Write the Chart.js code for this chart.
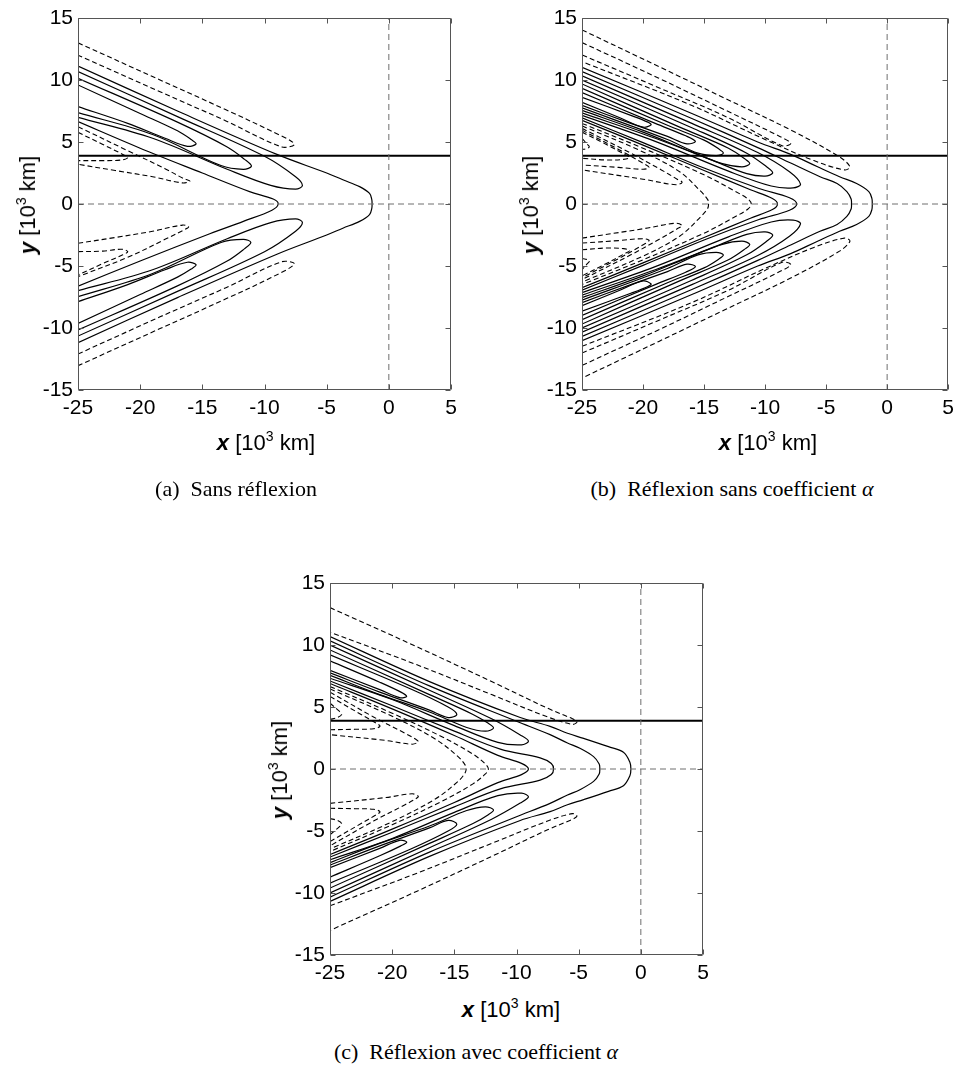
<!DOCTYPE html>
<html>
<head>
<meta charset="utf-8">
<script src="https://cdn.jsdelivr.net/npm/chart.js@4.4.0/dist/chart.umd.min.js"></script>
<style>
  body { margin: 0; background: #fff; width: 960px; height: 1068px; position: relative; overflow: hidden;
         font-family: "Liberation Sans", Arial, sans-serif; }
  canvas { position: absolute; }
  .xlab, .ylab, .cap { position: absolute; white-space: nowrap; color: #000; line-height: 1; }
  .xlab, .ylab { font-size: 22px; }
  .xlab { transform: translate(-50%, -50%); }
  .ylab { transform: translate(-50%, -50%) rotate(-90deg); }
  .sup { font-size: 14px; position: relative; top: -9px; }
  .cap { font-family: "Liberation Serif", "Times New Roman", serif; font-size: 22px; transform: translate(-50%, -50%); }
</style>
</head>
<body>
<canvas id="chartA" width="480" height="430" style="left:0;top:0"></canvas>
<canvas id="chartB" width="480" height="430" style="left:480px;top:0"></canvas>
<canvas id="chartC" width="480" height="430" style="left:250px;top:565px"></canvas>

<div class="xlab" style="left:266px;top:443px"><b><i>x</i></b> [10<span class="sup">3</span> km]</div>
<div class="ylab" style="left:28px;top:205px"><b><i>y</i></b> [10<span class="sup">3</span> km]</div>
<div class="cap" style="left:236px;top:489px">(a)&ensp;Sans réflexion</div>

<div class="xlab" style="left:768px;top:443px"><b><i>x</i></b> [10<span class="sup">3</span> km]</div>
<div class="ylab" style="left:531px;top:205px"><b><i>y</i></b> [10<span class="sup">3</span> km]</div>
<div class="cap" style="left:732px;top:489px">(b)&ensp;Réflexion sans coefficient <i>α</i></div>

<div class="xlab" style="left:511px;top:1010px"><b><i>x</i></b> [10<span class="sup">3</span> km]</div>
<div class="ylab" style="left:280px;top:770px"><b><i>y</i></b> [10<span class="sup">3</span> km]</div>
<div class="cap" style="left:476px;top:1052px">(c)&ensp;Réflexion avec coefficient <i>α</i></div>

<script>
// axes
const xTicks = [-25, -20, -15, -10, -5, 0, 5];
const yTicks = [-15, -10, -5, 0, 5, 10, 15];
const refLineY = 3.9;

// contour lines, flat lists x1,y1,x2,y2,... (10^3 km)

// (a) sans réflexion
const solidA = [
  [-25,11.13, -17,7.5, -9,4.0, -5,2.5, -3.7,1.95, -2.35,1.4, -1.55,0.85, -1.37,0.35, -1.35,0, -1.37,-0.35, -1.55,-0.85, -2.35,-1.4, -3.7,-1.95, -5,-2.5, -9,-4.05, -17,-7.55, -25,-11.18],
  [-25,6.64, -20,4.5, -15,2.5, -11.2,1.0, -9.3,0.4, -8.9,0, -9.4,-0.5, -11.7,-1.4, -14.4,-2.4, -20,-4.6, -25,-6.62],
  [-25,10.68, -17,7.05, -10,3.85, -7.5,2.2, -6.95,1.5, -7.5,1.2, -9.5,1.5, -13,2.8, -19,5.3, -25,6.99],
  [-25,10.14, -17,6.6, -13,4.6, -11.6,3.6, -11.05,3.05, -11.7,2.8, -13.5,3.1, -19,5.6, -25,7.37],
  [-25,9.6, -20,7.3, -17,5.9, -15.9,5.2, -15.5,4.85, -16.2,4.65, -18,5.3, -21,6.5, -25,7.85],
  [-25,-6.99, -19,-5.3, -13,-2.8, -9.5,-1.5, -7.5,-1.2, -6.95,-1.5, -7.5,-2.2, -10,-3.85, -17,-7.05, -25,-10.65],
  [-25,-7.48, -19,-5.6, -13.5,-3.1, -11.7,-2.85, -11.1,-3.1, -11.6,-3.6, -13,-4.6, -17,-6.6, -25,-10.16],
  [-25,-7.88, -21,-6.5, -18,-5.3, -16.2,-4.7, -15.5,-4.9, -15.9,-5.25, -17,-5.9, -20,-7.3, -25,-9.63]
];
const dashedA = [
  [-25,13.0, -18.4,10.0, -13.1,7.6, -9.5,5.9, -7.6,4.85, -8.6,4.6, -13.1,6.7, -18.4,9.05, -25,12.0],
  [-25,6.24, -21,4.3, -18,2.85, -16.5,2.05, -16.0,1.85, -16.6,1.7, -19,2.2, -22,2.7, -25,3.2],
  [-25,5.78, -23,4.8, -21.4,4.0, -21.0,3.75, -21.5,3.55, -23,3.5, -25,3.5],
  [-25,-12.1, -18.4,-9.1, -13.1,-6.75, -8.6,-4.65, -7.6,-4.85, -9.5,-5.95, -13.1,-7.65, -18.4,-10.05, -25,-13.04],
  [-25,-3.17, -22,-2.7, -19,-2.2, -16.6,-1.7, -16.1,-1.85, -16.5,-2.1, -18,-2.85, -21,-4.3, -25,-5.86],
  [-25,-3.84, -23,-3.8, -21.5,-3.65, -21.0,-3.85, -21.4,-4.1, -23,-4.8, -25,-5.73]
];

// (b) réflexion sans coefficient
const solidB = [
  [-25,11.03, -16,7.3, -10.6,5.0, -7.9,4.0, -5.7,3.0, -3.9,2.2, -2.5,1.65, -1.5,1.0, -1.25,0.45, -1.22,0, -1.25,-0.45, -1.5,-1.0, -2.5,-1.65, -3.9,-2.2, -5.7,-3.0, -7.9,-4.0, -10.6,-5.0, -16,-7.3, -25,-11.03],
  [-25,10.68, -16,6.9, -10.6,4.55, -7.9,3.3, -5.5,2.2, -4.1,1.65, -3.3,1.0, -2.95,0.4, -2.92,0, -2.95,-0.4, -3.3,-1.0, -4.1,-1.65, -5.5,-2.2, -7.9,-3.3, -10.6,-4.55, -16,-6.9, -25,-10.68],
  [-25,6.95, -20,4.95, -15,2.9, -10.5,1.25, -8.0,0.5, -7.41,0, -8.0,-0.5, -10.5,-1.25, -15,-2.9, -20,-4.95, -25,-6.95],
  [-25,6.75, -20,4.75, -15,2.7, -11.2,1.15, -9.4,0.45, -8.98,0, -9.4,-0.45, -11.2,-1.15, -15,-2.7, -20,-4.75, -25,-6.75],
  [-25,10.33, -16,6.5, -10.6,4.15, -8,2.6, -7.1,1.6, -7.7,1.3, -9.5,1.45, -13,2.65, -19,5.05, -25,7.15],
  [-25,10.0, -16,6.15, -11.5,4.1, -9.8,2.95, -9.38,2.5, -10.0,2.25, -11.5,2.45, -14,3.4, -19,5.3, -25,7.35],
  [-25,9.68, -17,6.2, -13,4.5, -11.6,3.6, -11.26,3.25, -11.9,3.0, -13.5,3.25, -16,4.2, -20,5.8, -25,7.55],
  [-25,9.33, -18,6.35, -15,5.15, -13.8,4.45, -13.42,4.1, -14.0,3.9, -15.5,4.1, -18,5.2, -25,7.75],
  [-25,8.98, -19,6.5, -16.5,5.5, -15.71,5.05, -16.4,4.85, -18,5.45, -21,6.5, -25,7.95],
  [-25,8.6, -21,7.15, -19.6,6.6, -19.34,6.38, -20,6.2, -22,7.0, -25,8.2],
  [-25,-7.15, -19,-5.05, -13,-2.65, -9.5,-1.45, -7.7,-1.3, -7.1,-1.6, -8,-2.6, -10.6,-4.15, -16,-6.5, -25,-10.33],
  [-25,-7.35, -19,-5.3, -14,-3.4, -11.5,-2.45, -10.0,-2.25, -9.38,-2.5, -9.8,-2.95, -11.5,-4.1, -16,-6.15, -25,-10.0],
  [-25,-7.55, -20,-5.8, -16,-4.2, -13.5,-3.25, -11.9,-3.0, -11.26,-3.25, -11.6,-3.6, -13,-4.5, -17,-6.2, -25,-9.68],
  [-25,-7.75, -18,-5.2, -15.5,-4.1, -14.0,-3.9, -13.42,-4.1, -13.8,-4.45, -15,-5.15, -18,-6.35, -25,-9.33],
  [-25,-7.95, -21,-6.5, -18,-5.45, -16.4,-4.85, -15.71,-5.05, -16.5,-5.5, -19,-6.5, -25,-8.98],
  [-25,-8.2, -22,-7.0, -20,-6.2, -19.34,-6.45, -19.6,-6.65, -21,-7.2, -25,-8.65]
];
const dashedB = [
  [-25,14.04, -18.7,11.08, -13.3,8.53, -7.9,5.97, -3.9,3.8, -3.05,3.0, -3.5,2.75, -6,3.5, -10,5.2, -16,7.95, -25,11.48],
  [-25,13.02, -18.7,10.14, -13.3,7.59, -8.8,5.45, -7.9,4.9, -8.6,4.7, -13,6.95, -19,9.5, -25,12.02],
  [-25,6.5, -20,4.5, -15,2.35, -12.5,1.05, -11.4,0.4, -11.13,0, -11.4,-0.4, -12.5,-1.05, -15,-2.35, -20,-4.5, -25,-6.5],
  [-25,6.3, -20,4.2, -17,2.6, -15.3,1.05, -14.7,0.35, -14.63,0, -14.7,-0.35, -15.3,-1.05, -17,-2.6, -20,-4.2, -25,-6.3],
  [-25,6.1, -21,4.1, -18.5,2.75, -17.2,2.0, -16.8,1.75, -17.3,1.55, -20,2.0, -25,2.75],
  [-25,5.95, -22,4.4, -20.2,3.4, -19.5,2.95, -20.0,2.8, -22,2.95, -25,3.15],
  [-25,5.8, -23,4.8, -21.5,4.0, -21.1,3.75, -21.6,3.6, -23,3.55, -25,3.69],
  [-25,5.3, -24.6,4.85, -24.4,4.6, -24.7,4.45, -25,4.4],
  [-25,-11.48, -16,-7.95, -10,-5.2, -6,-3.5, -3.5,-2.75, -3.05,-3.0, -3.9,-3.8, -7.9,-5.97, -13.3,-8.53, -18.7,-11.08, -25,-14.04],
  [-25,-12.02, -19,-9.5, -13,-6.95, -8.6,-4.7, -7.9,-4.9, -8.8,-5.45, -13.3,-7.59, -18.7,-10.14, -25,-13.02],
  [-25,-2.75, -20,-2.0, -17.3,-1.55, -16.8,-1.75, -17.2,-2.0, -18.5,-2.75, -21,-4.1, -25,-6.1],
  [-25,-3.15, -22,-2.95, -20.0,-2.8, -19.5,-2.95, -20.2,-3.4, -22,-4.4, -25,-5.95],
  [-25,-3.69, -23,-3.55, -21.6,-3.6, -21.1,-3.75, -21.5,-4.0, -23,-4.8, -25,-5.8],
  [-25,-4.4, -24.7,-4.45, -24.4,-4.6, -24.6,-4.85, -25,-5.3]
];

// (c) réflexion avec coefficient
const solidC = [
  [-25,10.68, -17,7.05, -9.7,4.15, -7.3,3.44, -5.9,2.88, -4.6,2.47, -2.6,1.8, -1.4,1.35, -0.88,0.55, -0.8,0, -0.88,-0.55, -1.4,-1.35, -2.6,-1.8, -4.6,-2.47, -5.9,-2.88, -7.3,-3.44, -9.7,-4.15, -17,-7.05, -25,-10.68],
  [-25,10.33, -17,6.7, -10,3.85, -7.3,2.77, -5.9,2.1, -4.9,1.67, -3.8,1.0, -3.35,0.4, -3.3,0, -3.35,-0.4, -3.8,-1.0, -4.9,-1.67, -5.9,-2.1, -7.3,-2.77, -10,-3.85, -17,-6.7, -25,-10.33],
  [-25,7.1, -20,5.1, -15,3.05, -11.3,1.6, -8.1,0.9, -7.2,0.45, -7.02,0, -7.2,-0.45, -8.1,-0.9, -11.3,-1.6, -15,-3.05, -20,-5.1, -25,-7.1],
  [-25,6.9, -20,4.85, -15,2.7, -11.5,1.1, -9.6,0.45, -9.04,0, -9.6,-0.45, -11.5,-1.1, -15,-2.7, -20,-4.85, -25,-6.9],
  [-25,10.0, -17,6.35, -12,4.05, -9.7,2.75, -9.04,2.25, -9.6,1.95, -11.5,2.15, -15,3.5, -20,5.6, -25,7.32],
  [-25,9.6, -17,6.0, -13.5,4.4, -12.3,3.7, -11.85,3.3, -12.5,3.05, -14,3.35, -17,4.6, -21,6.0, -25,7.55],
  [-25,9.2, -18.5,6.45, -15.5,5.0, -14.8,4.4, -15.5,4.15, -17,4.75, -21,6.2, -25,7.75],
  [-25,8.72, -21,7.0, -19.3,6.2, -18.83,5.85, -19.4,5.75, -21,6.4, -25,7.95],
  [-25,-7.32, -20,-5.6, -15,-3.5, -11.5,-2.15, -9.6,-1.95, -9.04,-2.25, -9.7,-2.75, -12,-4.05, -17,-6.35, -25,-10.0],
  [-25,-7.55, -21,-6.0, -17,-4.6, -14,-3.35, -12.5,-3.05, -11.85,-3.3, -12.3,-3.7, -13.5,-4.4, -17,-6.0, -25,-9.6],
  [-25,-7.75, -21,-6.2, -17,-4.75, -15.5,-4.15, -14.8,-4.45, -15.5,-5.0, -18.5,-6.45, -25,-9.2],
  [-25,-7.95, -21,-6.4, -19.4,-5.75, -18.83,-5.9, -19.3,-6.2, -21,-7.0, -25,-8.72]
];
const dashedC = [
  [-25,13.02, -18,9.85, -12,7.05, -7.5,4.9, -5.5,4.05, -5.14,3.8, -5.5,3.6, -7.5,4.2, -12,6.0, -18,8.4, -25,11.03],
  [-25,6.65, -20,4.5, -16,2.6, -13.5,1.2, -12.5,0.4, -12.26,0, -12.5,-0.4, -13.5,-1.2, -16,-2.6, -20,-4.5, -25,-6.65],
  [-25,6.45, -20,4.25, -16.5,2.4, -14.7,1.0, -14.15,0.35, -14.05,0, -14.15,-0.35, -14.7,-1.0, -16.5,-2.4, -20,-4.25, -25,-6.45],
  [-25,6.2, -21.5,4.2, -19,2.9, -18.1,2.4, -17.9,2.2, -18.4,2.0, -20.5,2.3, -25,2.77],
  [-25,5.85, -22.5,4.4, -21.3,3.7, -20.98,3.45, -21.5,3.25, -23,3.2, -25,3.17],
  [-25,5.3, -24.3,4.7, -24.06,4.4, -24.4,4.15, -25,4.0],
  [-25,-11.03, -18,-8.4, -12,-6.0, -7.5,-4.2, -5.5,-3.6, -5.14,-3.8, -5.5,-4.05, -7.5,-4.9, -12,-7.05, -18,-9.85, -25,-13.02],
  [-25,-2.77, -20.5,-2.3, -18.4,-2.0, -17.9,-2.2, -18.1,-2.4, -19,-2.9, -21.5,-4.2, -25,-6.2],
  [-25,-3.17, -23,-3.2, -21.5,-3.25, -20.98,-3.45, -21.3,-3.7, -22.5,-4.4, -25,-5.85],
  [-25,-4.0, -24.4,-4.15, -24.06,-4.4, -24.3,-4.7, -25,-5.3]
];

function pts(flat) {
  const out = [];
  for (let i = 0; i < flat.length; i += 2) out.push({ x: flat[i], y: flat[i + 1] });
  return out;
}

function line(data, color, width, dash, tension) {
  return {
    data: data, borderColor: color, borderWidth: width, borderDash: dash,
    showLine: true, pointRadius: 0, fill: false, tension: tension || 0
  };
}

// box around the plot with inward ticks, like the original
const framePlugin = {
  id: 'frame',
  afterDatasetsDraw(chart) {
    const { ctx, chartArea: a, scales } = chart;
    const L = Math.round(a.left) + 0.5, R = Math.round(a.right) - 0.5;
    const T = Math.round(a.top) + 0.5, B = Math.round(a.bottom) - 0.5;
    ctx.save();
    ctx.strokeStyle = '#555';
    ctx.lineWidth = 1;
    ctx.beginPath();
    ctx.rect(L, T, R - L, B - T);
    xTicks.forEach(v => {
      const px = Math.round(scales.x.getPixelForValue(v)) + 0.5;
      ctx.moveTo(px, B); ctx.lineTo(px, B - 5);
      ctx.moveTo(px, T); ctx.lineTo(px, T + 5);
    });
    yTicks.forEach(v => {
      const py = Math.round(scales.y.getPixelForValue(v)) + 0.5;
      ctx.moveTo(L, py); ctx.lineTo(L + 5, py);
      ctx.moveTo(R, py); ctx.lineTo(R - 5, py);
    });
    ctx.stroke();
    ctx.restore();
  }
};

const tickFont = { family: '"Liberation Sans", Arial, sans-serif', size: 21 };

function makeChart(id, solid, dashed, yAxisWidth, padRight) {
  const datasets = [];
  datasets.push(line([{ x: -25, y: 0 }, { x: 5, y: 0 }], '#6e6e6e', 1, [6, 4]));
  datasets.push(line([{ x: 0, y: -15 }, { x: 0, y: 15 }], '#6e6e6e', 1, [6, 4]));
  dashed.forEach(c => datasets.push(line(pts(c), '#000', 1.1, [5, 3], 0.35)));
  solid.forEach(c => datasets.push(line(pts(c), '#000', 1.2, [], 0.35)));
  datasets.push(line([{ x: -25, y: refLineY }, { x: 5, y: refLineY }], '#000', 2, []));

  return new Chart(document.getElementById(id), {
    type: 'scatter',
    data: { datasets: datasets },
    options: {
      responsive: false,
      animation: false,
      layout: { padding: { left: 0, top: 18, right: padRight, bottom: 0 } },
      plugins: { legend: { display: false }, tooltip: { enabled: false } },
      scales: {
        x: {
          type: 'linear', min: -25, max: 5,
          afterBuildTicks: s => { s.ticks = xTicks.map(v => ({ value: v })); },
          afterFit: s => { s.height = 40; },
          grid: { display: false, drawTicks: false },
          border: { display: false },
          ticks: { color: '#000', font: tickFont, padding: 6, maxRotation: 0, autoSkip: false }
        },
        y: {
          type: 'linear', min: -15, max: 15,
          afterBuildTicks: s => { s.ticks = yTicks.map(v => ({ value: v })); },
          afterFit: s => { s.width = yAxisWidth; },
          grid: { display: false, drawTicks: false },
          border: { display: false },
          ticks: { color: '#000', font: tickFont, padding: 5, autoSkip: false }
        }
      }
    },
    plugins: [framePlugin]
  });
}

makeChart('chartA', solidA, dashedA, 78, 29);
makeChart('chartB', solidB, dashedB, 102, 7);
makeChart('chartC', solidC, dashedC, 80, 27);
</script>
</body>
</html>
